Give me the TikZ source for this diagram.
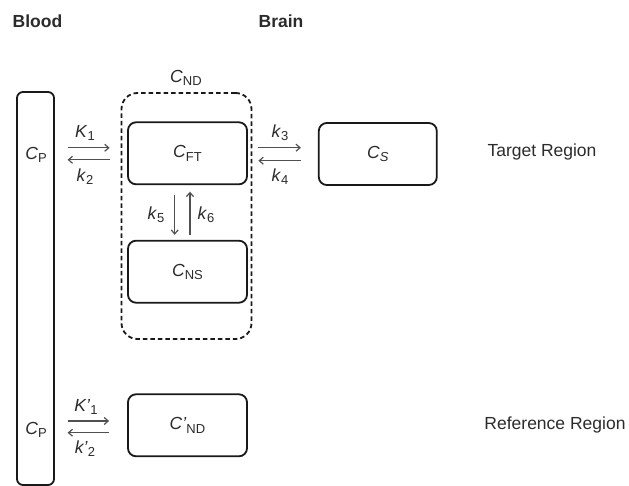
\documentclass[tikz,border=0pt]{standalone}
\usepackage{fontspec}
\setmainfont{Liberation Sans}
\usetikzlibrary{calc,arrows.meta}
\definecolor{txt}{HTML}{2B2B2B}
\definecolor{arrc}{HTML}{505050}
\newcommand{\ci}[1]{\textit{#1}}
\newcommand{\sbx}[1]{\raisebox{-0.35ex}{\fontsize{13}{15}\selectfont #1}}
\begin{document}
\begin{tikzpicture}[x=1pt,y=-1pt,
  every node/.style={font=\fontsize{17.5}{21}\selectfont,text=txt,inner sep=0pt},
  boxc/.style={draw=black!90,line width=1.8pt,rounded corners=8pt,minimum width=119pt,minimum height=62pt},
  dbox/.style={draw=black!90,line width=1.8pt,rounded corners=16pt,dash pattern=on 4.5pt off 3pt},
  arr/.style={draw=arrc,line width=1.2pt,-{Straight Barb[length=4pt,width=7pt]}}]
\useasboundingbox (0,0) rectangle (629,486);
\node[font=\fontsize{17.5}{21}\selectfont\bfseries] (blood) at (37.5,21) {Blood};
\node[font=\fontsize{17.5}{21}\selectfont\bfseries] (brain) at (281,21) {Brain};
% blood bar
\node[draw=black!90,line width=1.8pt,rounded corners=6pt,minimum width=37pt,minimum height=393pt] (cpbar) at (35.5,288.5) {};
\node (cp1) at (36,155) {\ci{C}\sbx{P}};
\node (cp2) at (36,430) {\ci{C}\sbx{P}};
% dashed nondisplaceable box
\node[dbox,minimum width=130pt,minimum height=246pt] (cnd) at (186.5,216) {};
\node (cndl) at (186,78) {\ci{C}\sbx{ND}};
\node[boxc] (cft) at (187.5,153.3) {\ci{C}\sbx{FT}};
\node[boxc] (cns) at (187.5,271.7) {\ci{C}\sbx{NS}};
\node[boxc,minimum width=118pt] (cs) at (377.8,154) {\ci{C}\sbx{\ci{S}}};
\node[boxc] (cndr) at (187.5,425.3) {\ci{C'}\sbx{ND}};
\node (target) at (542,152) {Target Region};
\node (ref) at (555,425) {Reference Region};
% arrows blood <-> free
\draw[arr] ([xshift=12.7pt,yshift=5.5pt]cpbar.east |- cft.west) -- ([xshift=-11pt,yshift=5.5pt]cnd.west |- cft.west);
\draw[arr] ([xshift=-11pt,yshift=-6.5pt]cnd.west |- cft.west) -- ([xshift=12.7pt,yshift=-6.5pt]cpbar.east |- cft.west);
\node (K1) at (85,133) {\ci{K}\sbx{1}};
\node (k2) at (85,177) {\ci{k}\sbx{2}};
% free <-> specific
\draw[arr] ([xshift=6pt,yshift=6.3pt]cnd.east |- cs.west) -- ([xshift=-17pt,yshift=6.3pt]cs.west);
\draw[arr] ([xshift=-17pt,yshift=-6.7pt]cs.west) -- ([xshift=6pt,yshift=-6.7pt]cnd.east |- cs.west);
\node (k3) at (280,133) {\ci{k}\sbx{3}};
\node (k4) at (280,177) {\ci{k}\sbx{4}};
% free <-> nonspecific
\draw[arr] ([xshift=-12.8pt,yshift=-10pt]cft.south) -- ([xshift=-12.8pt,yshift=5pt]cns.north);
\draw[arr] ([xshift=2.5pt,yshift=5pt]cns.north) -- ([xshift=2.5pt,yshift=-6.5pt]cft.south);
\node (k5) at (156,215) {\ci{k}\sbx{5}};
\node (k6) at (206,215) {\ci{k}\sbx{6}};
% reference region
\draw[arr] ([xshift=12.7pt,yshift=4.3pt]cpbar.east |- cndr.west) -- ([xshift=-18pt,yshift=4.3pt]cndr.west);
\draw[arr] ([xshift=-18pt,yshift=-7.4pt]cndr.west) -- ([xshift=12.7pt,yshift=-7.4pt]cpbar.east |- cndr.west);
\node (K1p) at (86,407) {\ci{K'}\sbx{1}};
\node (k2p) at (85,449) {\ci{k'}\sbx{2}};
\end{tikzpicture}
\end{document}
